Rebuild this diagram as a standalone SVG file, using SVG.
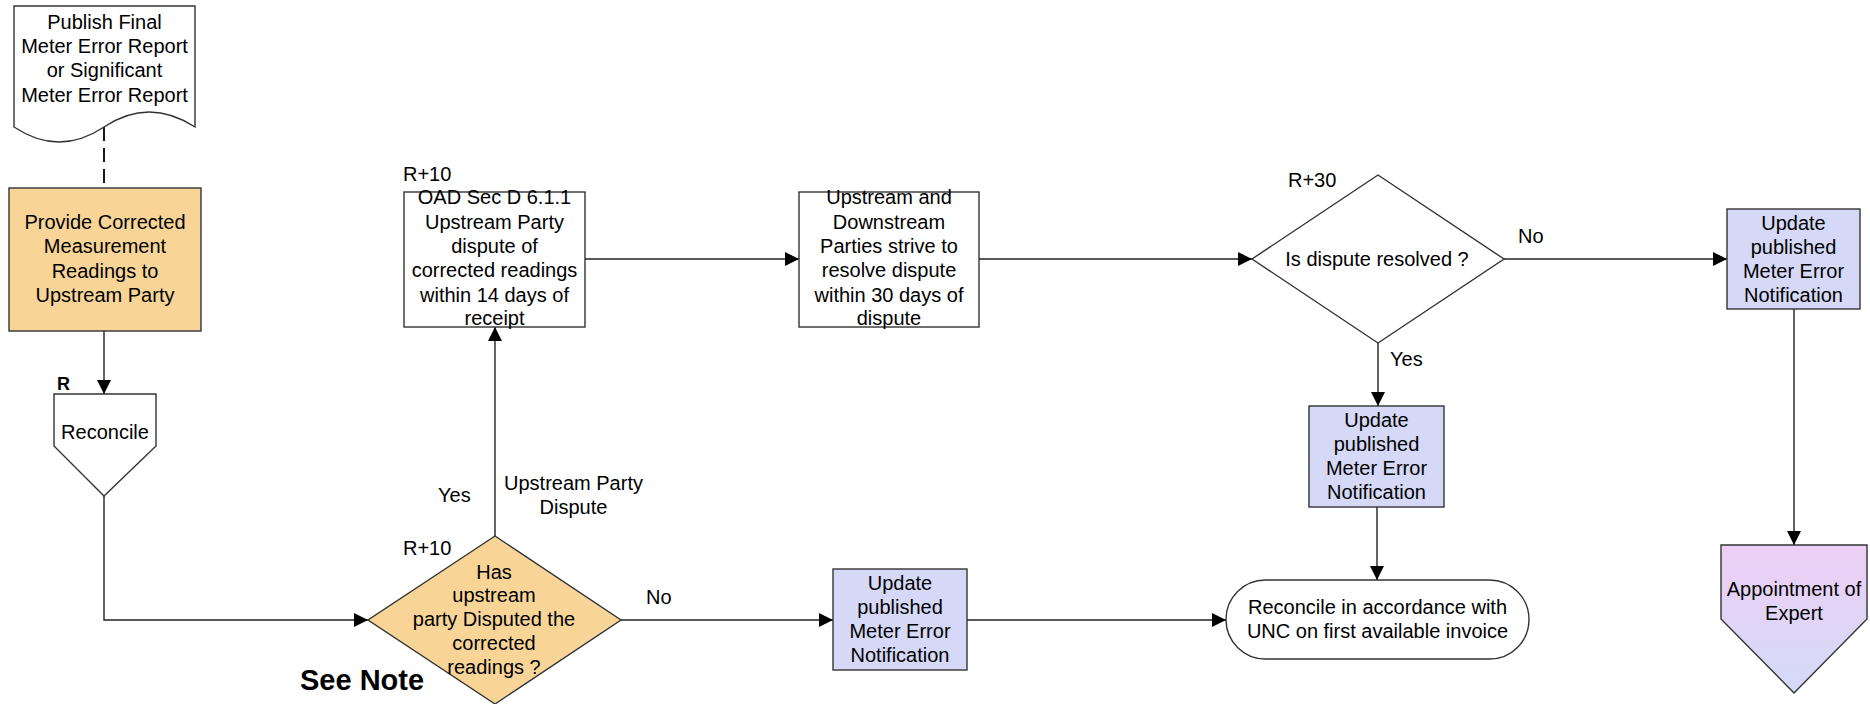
<svg xmlns="http://www.w3.org/2000/svg" width="1870" height="704" viewBox="0 0 1870 704">
<style>
  text { font-family: "Liberation Sans", Arial, sans-serif; font-size: 20px; fill: #000; }
  .c { text-anchor: middle; }
  .shape { stroke: #333; stroke-width: 1.4; }
  .white { fill: #fff; }
  .orange { fill: #F8D597; }
  .blue { fill: #D5D9F7; }
  .conn { fill: none; stroke: #222; stroke-width: 1.4; }
  .arrow { marker-end: url(#ah); }
  .dash { stroke: #000; stroke-width: 1.8; stroke-dasharray: 14 7; }
  .bold { font-weight: bold; }
</style>
<defs>
  <marker id="ah" markerUnits="userSpaceOnUse" markerWidth="15" markerHeight="15" refX="14" refY="7" orient="auto">
    <path d="M0,0 L14,7 L0,14 z" fill="#000"/>
  </marker>
  <linearGradient id="purp" x1="0" y1="0" x2="0" y2="1">
    <stop offset="0" stop-color="#EDCFF5"/>
    <stop offset="1" stop-color="#D3DAF7"/>
  </linearGradient>
</defs>
<rect width="1870" height="704" fill="#fff"/>

<g id="connectors">
  <path class="conn dash" d="M104,127 V188"/>
  <path class="conn arrow" d="M104,331 V394"/>
  <path class="conn arrow" d="M104,496 V620 H368"/>
  <path class="conn arrow" d="M495,536 V327"/>
  <path class="conn arrow" d="M585,259 H799"/>
  <path class="conn arrow" d="M979,259 H1252"/>
  <path class="conn arrow" d="M621,620 H833"/>
  <path class="conn arrow" d="M967,620 H1226"/>
  <path class="conn arrow" d="M1504,259 H1727"/>
  <path class="conn arrow" d="M1378,343 V406"/>
  <path class="conn arrow" d="M1377,507 V580"/>
  <path class="conn arrow" d="M1794,309 V545"/>
</g>

<g id="publish-report">
  <path class="shape white" d="M14,6 H195 V127 Q149,97 104,127 T14,127 Z"/>
  <text class="c" x="104.5" y="29">Publish Final</text>
  <text class="c" x="104.5" y="53">Meter Error Report</text>
  <text class="c" x="104.5" y="77">or Significant</text>
  <text class="c" x="104.5" y="102">Meter Error Report</text>
</g>

<g id="provide-readings">
  <rect class="shape orange" x="9" y="188" width="192" height="143"/>
  <text class="c" x="105" y="229">Provide Corrected</text>
  <text class="c" x="105" y="253">Measurement</text>
  <text class="c" x="105" y="278">Readings to</text>
  <text class="c" x="105" y="302">Upstream Party</text>
</g>

<g id="reconcile">
  <text class="bold" x="57" y="390" style="font-size:18px">R</text>
  <path class="shape white" d="M54,394 H156 V446 L104,496 L54,446 Z"/>
  <text class="c" x="105" y="439">Reconcile</text>
</g>

<g id="has-disputed">
  <text x="403" y="555">R+10</text>
  <path class="shape orange" d="M495,536 L621,620 L495,704 L368,620 Z"/>
  <text class="c" x="494" y="579">Has</text>
  <text class="c" x="494" y="602">upstream</text>
  <text class="c" x="494" y="626">party Disputed the</text>
  <text class="c" x="494" y="650">corrected</text>
  <text class="c" x="494" y="674">readings ?</text>
  <text class="bold" x="300" y="690" style="font-size:29px">See Note</text>
</g>

<g id="labels">
  <text x="438" y="502">Yes</text>
  <text class="c" x="573.5" y="490">Upstream Party</text>
  <text class="c" x="573.5" y="514">Dispute</text>
  <text x="646" y="604">No</text>
  <text x="1518" y="243">No</text>
  <text x="1390" y="366">Yes</text>
</g>

<g id="oad-dispute">
  <text x="403" y="181">R+10</text>
  <rect class="shape white" x="404" y="192" width="181" height="135"/>
  <text class="c" x="494.5" y="204">OAD Sec D 6.1.1</text>
  <text class="c" x="494.5" y="229">Upstream Party</text>
  <text class="c" x="494.5" y="253">dispute of</text>
  <text class="c" x="494.5" y="277">corrected readings</text>
  <text class="c" x="494.5" y="302">within 14 days of</text>
  <text class="c" x="494.5" y="325">receipt</text>
</g>

<g id="strive-resolve">
  <rect class="shape white" x="799" y="192" width="180" height="135"/>
  <text class="c" x="889" y="204">Upstream and</text>
  <text class="c" x="889" y="229">Downstream</text>
  <text class="c" x="889" y="253">Parties strive to</text>
  <text class="c" x="889" y="277">resolve dispute</text>
  <text class="c" x="889" y="302">within 30 days of</text>
  <text class="c" x="889" y="325">dispute</text>
</g>

<g id="is-resolved">
  <text x="1288" y="187">R+30</text>
  <path class="shape white" d="M1378,175 L1504,259 L1378,343 L1252,259 Z"/>
  <text class="c" x="1377" y="266">Is dispute resolved ?</text>
</g>

<g id="update-no-dispute">
  <rect class="shape blue" x="833" y="569" width="134" height="101"/>
  <text class="c" x="900" y="590">Update</text>
  <text class="c" x="900" y="614">published</text>
  <text class="c" x="900" y="638">Meter Error</text>
  <text class="c" x="900" y="662">Notification</text>
</g>

<g id="update-resolved">
  <rect class="shape blue" x="1309" y="406" width="135" height="101"/>
  <text class="c" x="1376.5" y="427">Update</text>
  <text class="c" x="1376.5" y="451">published</text>
  <text class="c" x="1376.5" y="475">Meter Error</text>
  <text class="c" x="1376.5" y="499">Notification</text>
</g>

<g id="update-unresolved">
  <rect class="shape blue" x="1727" y="209" width="133" height="100"/>
  <text class="c" x="1793.5" y="230">Update</text>
  <text class="c" x="1793.5" y="254">published</text>
  <text class="c" x="1793.5" y="278">Meter Error</text>
  <text class="c" x="1793.5" y="302">Notification</text>
</g>

<g id="reconcile-unc">
  <rect class="shape white" x="1226" y="580" width="303" height="79" rx="39.5" ry="39.5"/>
  <text class="c" x="1377.5" y="614">Reconcile in accordance with</text>
  <text class="c" x="1377.5" y="638">UNC on first available invoice</text>
</g>

<g id="appointment-expert">
  <path class="shape" fill="url(#purp)" d="M1721,545 H1867 V619 L1794,693 L1721,619 Z"/>
  <text class="c" x="1794" y="596">Appointment of</text>
  <text class="c" x="1794" y="620">Expert</text>
</g>
</svg>
